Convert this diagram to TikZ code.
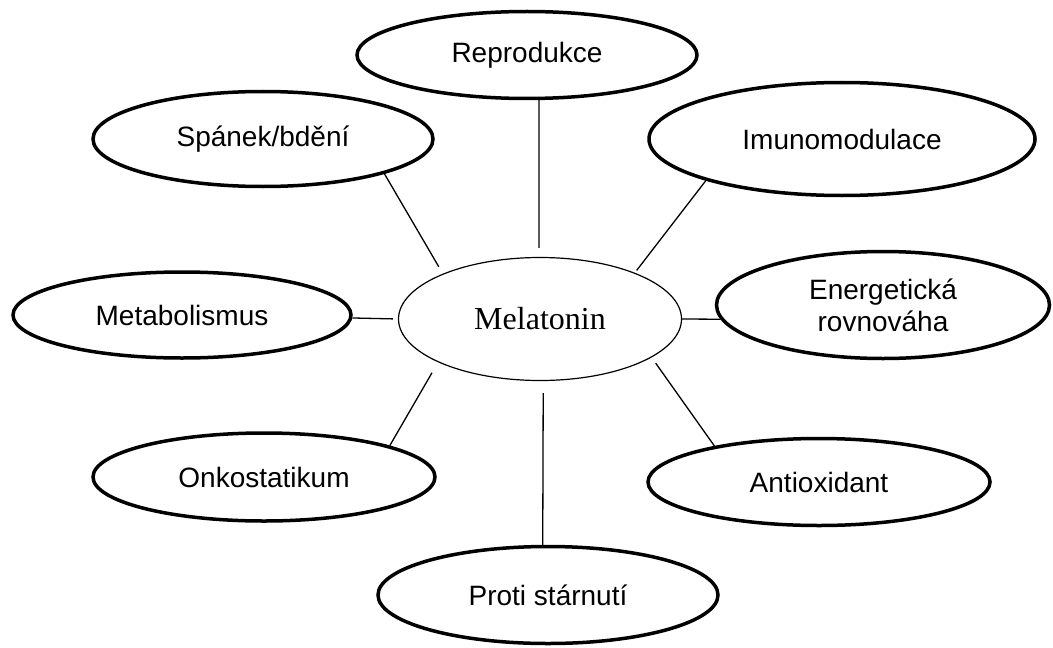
\documentclass[tikz,border=0pt]{standalone}
\usepackage{fontspec}
\setmainfont{Liberation Sans}
\newfontfamily\melfont{Liberation Serif}
\usetikzlibrary{shapes.geometric}

\begin{document}
\begin{tikzpicture}[x=0.5pt, y=-0.5pt,
    bubble/.style={ellipse, draw, line width=1.75pt, inner sep=0pt,
      align=center, font=\fontsize{14}{16}\selectfont},
    hub/.style={ellipse, draw, line width=0.6pt, inner sep=0pt,
      font=\melfont\fontsize{16}{18}\selectfont},
    link/.style={line width=0.65pt}]
  \useasboundingbox (0,0) rectangle (1053,647);

  \newcommand{\bubble}[5]{
    \node[bubble, minimum width=#3, minimum height=#4] (#1) at #2 {#5};
  }

  \node[hub, minimum width=141.5pt, minimum height=61.5pt] (mel) at (540,319) {Melatonin};

  \bubble{rep}{(527,55)}{170pt}{43.5pt}{Reprodukce}
  \bubble{spanek}{(263,139)}{170pt}{47.5pt}{Spánek/bdění}
  \bubble{imuno}{(842,139)}{193pt}{56.5pt}{Imunomodulace}
  \bubble{meta}{(182,315)}{169pt}{43pt}{Metabolismus}
  \bubble{energ}{(883,305)}{166.5pt}{53.5pt}{Energetická\\rovnováha}
  \bubble{onko}{(264,477)}{171pt}{44pt}{Onkostatikum}
  \bubble{antiox}{(819,482)}{171pt}{43.5pt}{Antioxidant}
  \bubble{proti}{(548,595)}{170pt}{48.5pt}{Proti stárnutí}

  % spokes, most stop a little short of the hub
  \draw[link, shorten >=4.5pt] (rep.-75) -- (mel.91);
  \draw[link, shorten >=4pt] (spanek.-16) -- (mel.155);
  \draw[link, shorten >=1.5pt] (imuno.-163) -- (mel.26);
  \draw[link, shorten >=2.5pt] (meta.-1) -- (mel.180);
  \draw[link] (energ.-175.5) -- (mel.0);
  \draw[link, shorten >=6pt] (onko.14.5) -- (mel.-157);
  \draw[link, shorten >=3.5pt] (antiox.161) -- (mel.-19);
  \draw[link, shorten >=6pt] (proti.96) -- (mel.-87.5);

\end{tikzpicture}
\end{document}
